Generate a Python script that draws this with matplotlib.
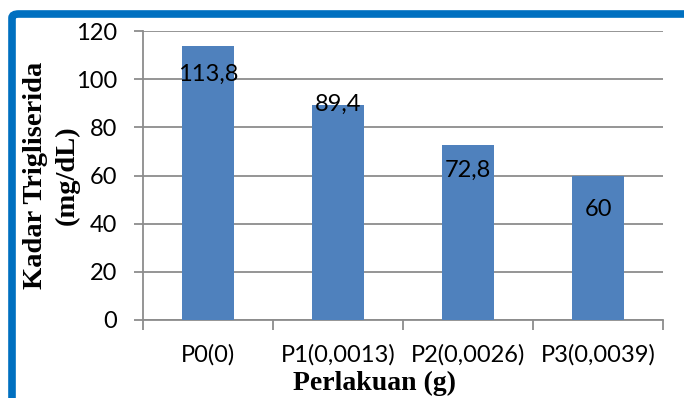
import matplotlib
matplotlib.use('Agg')
import matplotlib.pyplot as plt
from matplotlib.patches import FancyBboxPatch

categories = ['P0(0)', 'P1(0,0013)', 'P2(0,0026)', 'P3(0,0039)']
values = [113.8, 89.4, 72.8, 60]
value_labels = ['113,8', '89,4', '72,8', '60']
label_y = [102, 89.5, 62.3, 45.7]   # where the labels sit (as in the original)
y_ticks = [0, 20, 40, 60, 80, 100, 120]

fig = plt.figure(figsize=(6.84, 3.98), dpi=100)
ax = fig.add_axes([143/684, 1-320/398, 520/684, 289/398])

x = list(range(len(categories)))
ax.bar(x, values, width=0.4, color='#4F81BD', zorder=3)
for xi, t, ly in zip(x, value_labels, label_y):
    ax.text(xi, ly, t, ha='center', va='center', fontsize=17, family='Lato', zorder=4)

ax.set_xlim(-0.5, 3.5)
ax.set_ylim(0, 120)
ax.set_yticks(y_ticks)
ax.set_xticks(x)
ax.set_xticklabels(categories)
ax.set_xticks([-0.5, 0.5, 1.5, 2.5, 3.5], minor=True)
ax.tick_params(axis='x', which='major', length=0, pad=17, labelsize=17)
ax.tick_params(axis='x', which='minor', length=7, width=1.3, color='#8c8c8c', direction='out')
ax.tick_params(axis='y', length=6.5, width=1.3, color='#8c8c8c', labelsize=17, pad=12)
for lab in ax.get_xticklabels() + ax.get_yticklabels():
    lab.set_family('Lato')

ax.grid(axis='y', color='#8c8c8c', linewidth=1.3, zorder=0)
for s in ['top', 'right']:
    ax.spines[s].set_visible(False)
ax.spines['left'].set_color('#8c8c8c')
ax.spines['bottom'].set_color('#8c8c8c')
ax.spines['left'].set_linewidth(1.3)
ax.spines['bottom'].set_linewidth(1.3)

ax.set_ylabel('Kadar Trigliserida\n(mg/dL)', fontsize=20.5, fontweight='bold',
              family='Liberation Serif', linespacing=1.35, va='center')
ax.yaxis.set_label_coords(-0.177, 0.5)
ax.set_xlabel('Perlakuan (g)', fontsize=20, fontweight='bold', family='Liberation Serif',
              va='center')
ax.xaxis.set_label_coords(0.446, -0.218)

# blue frame (only the left and top edges are in view)
frame = FancyBboxPatch((12/684, -0.2), 1.2, 1 - 14/398 + 0.2,
                       boxstyle='round,pad=0,rounding_size=0.01',
                       transform=fig.transFigure, fill=False,
                       edgecolor='#0070C0', linewidth=5.5, zorder=10)
fig.patches.append(frame)

fig.savefig('out.png', dpi=100)
